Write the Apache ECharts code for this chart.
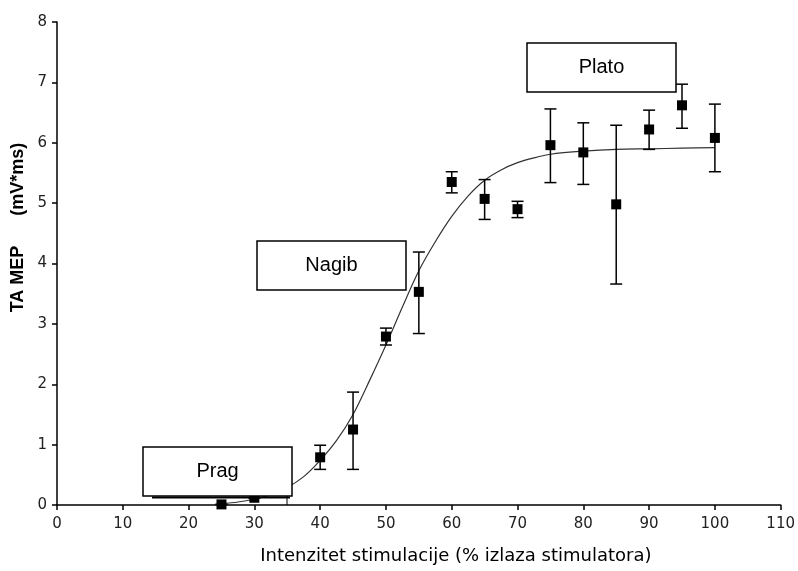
<!DOCTYPE html>
<html>
<head>
<meta charset="utf-8">
<script src="https://cdn.jsdelivr.net/npm/echarts@6/dist/echarts.min.js"></script>
<style>
  html, body { margin: 0; padding: 0; background: #fff; }
  #chart { width: 798px; height: 571px; }
</style>
</head>
<body>
<div id="chart"></div>
<script>
// mjerenja (srednja vrijednost i raspon greske)
var stimulus = [25, 30, 40, 45, 50, 55, 60, 65, 70, 75, 80, 85, 90, 95, 100];
var meanMep  = [0.01, 0.12, 0.79, 1.25, 2.79, 3.53, 5.35, 5.07, 4.90, 5.96, 5.84, 4.98, 6.22, 6.62, 6.08];
var lowMep   = [0.01, 0.12, 0.59, 0.59, 2.65, 2.84, 5.17, 4.73, 4.76, 5.34, 5.31, 3.66, 5.89, 6.24, 5.52];
var highMep  = [0.01, 0.12, 0.99, 1.87, 2.93, 4.19, 5.52, 5.39, 5.03, 6.56, 6.33, 6.29, 6.54, 6.97, 6.64];

// sigmoidna krivulja (ocitano sa slike)
var curveX = [25, 27.5, 30, 32.5, 35, 37.5, 40, 42.5, 45, 47.5, 50, 52.5, 55, 57.5, 60, 62.5, 65, 67.5, 70, 72.5, 75, 80, 85, 90, 95, 100];
var curveY = [0.02, 0.05, 0.10, 0.17, 0.29, 0.47, 0.74, 1.07, 1.50, 2.06, 2.65, 3.28, 3.88, 4.36, 4.78, 5.12, 5.38, 5.55, 5.67, 5.75, 5.81, 5.86, 5.89, 5.90, 5.91, 5.92];

var xTicks = [0, 10, 20, 30, 40, 50, 60, 70, 80, 90, 100, 110];
var yTicks = [0, 1, 2, 3, 4, 5, 6, 7, 8];

var font = 'Liberation Sans, Arial, sans-serif';
var wide = 'DejaVu Sans, sans-serif';

var myChart = echarts.init(document.getElementById('chart'));

var points = stimulus.map(function (x, i) { return [x, meanMep[i]]; });
var errors = stimulus.map(function (x, i) { return [x, lowMep[i], highMep[i]]; });
var curve = curveX.map(function (x, i) { return [x, curveY[i]]; });

// okvir s natpisom
function box(x, y, w, h, label) {
    return {
        type: 'group',
        z: 100,
        children: [
            {
                type: 'rect',
                z: 100,
                shape: { x: x, y: y, width: w, height: h },
                style: { fill: '#fff', stroke: '#000', lineWidth: 1.5 }
            },
            {
                type: 'text',
                z: 101,
                x: x + w / 2,
                y: y + h / 2,
                style: { text: label, font: '20px ' + font, fill: '#000', textAlign: 'center', textVerticalAlign: 'middle' }
            }
        ]
    };
}

var option = {
    backgroundColor: '#fff',
    animation: false,
    grid: { left: 57, right: 17, top: 22, bottom: 66, containLabel: false },
    xAxis: {
        type: 'value',
        min: xTicks[0],
        max: xTicks[xTicks.length - 1],
        interval: 10,
        name: 'Intenzitet stimulacije (% izlaza stimulatora)',
        nameLocation: 'middle',
        nameGap: 42,
        nameTextStyle: { fontFamily: wide, fontSize: 18, color: '#000', padding: [0, 0, 0, 74] },
        axisLine: { lineStyle: { color: '#000', width: 1.5 } },
        axisTick: { length: 5, lineStyle: { color: '#000', width: 1.5 } },
        axisLabel: { fontFamily: wide, fontSize: 15, color: '#222', margin: 12 },
        splitLine: { show: false }
    },
    yAxis: {
        type: 'value',
        min: yTicks[0],
        max: yTicks[yTicks.length - 1],
        interval: 1,
        name: 'TA MEP      (mV*ms)',
        nameLocation: 'middle',
        nameGap: 29,
        nameTextStyle: { fontFamily: font, fontSize: 18, fontWeight: 'bold', color: '#000', padding: [0, 0, 0, 72] },
        axisLine: { lineStyle: { color: '#000', width: 1.5 } },
        axisTick: { length: 5, lineStyle: { color: '#000', width: 1.5 } },
        axisLabel: { fontFamily: wide, fontSize: 15, color: '#222', margin: 10 },
        splitLine: { show: false }
    },
    series: [
        {
            type: 'line',
            data: curve,
            smooth: 0.3,
            symbol: 'none',
            lineStyle: { color: '#333', width: 1.2 },
            z: 2
        },
        {
            type: 'custom',
            data: errors,
            z: 3,
            renderItem: function (params, api) {
                var top = api.coord([api.value(0), api.value(2)]);
                var bot = api.coord([api.value(0), api.value(1)]);
                var cap = 6;
                var st = { stroke: '#000', lineWidth: 1.5 };
                return {
                    type: 'group',
                    children: [
                        { type: 'line', shape: { x1: top[0], y1: top[1], x2: bot[0], y2: bot[1] }, style: st },
                        { type: 'line', shape: { x1: top[0] - cap, y1: top[1], x2: top[0] + cap, y2: top[1] }, style: st },
                        { type: 'line', shape: { x1: bot[0] - cap, y1: bot[1], x2: bot[0] + cap, y2: bot[1] }, style: st }
                    ]
                };
            }
        },
        {
            type: 'scatter',
            data: points,
            symbol: 'rect',
            symbolSize: 10,
            itemStyle: { color: '#000', opacity: 1 },
            z: 4
        }
    ],
    graphic: [
        // sjena ispod okvira "Prag"
        { type: 'line', z: 99, shape: { x1: 152, y1: 497.5, x2: 290, y2: 497.5 }, style: { stroke: '#000', lineWidth: 2 } },
        { type: 'line', z: 99, shape: { x1: 287, y1: 496, x2: 287, y2: 505 }, style: { stroke: '#000', lineWidth: 1 } },
        box(143, 447, 149, 49, 'Prag'),
        box(257, 241, 149, 49, 'Nagib'),
        box(527, 43, 149, 49, 'Plato')
    ]
};

myChart.setOption(option);
</script>
</body>
</html>
